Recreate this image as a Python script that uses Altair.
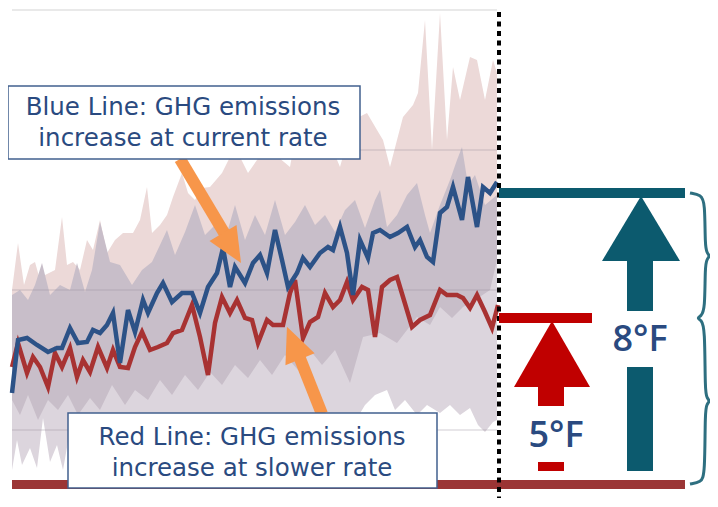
import altair as alt
import pandas as pd

# ---------------- data (plot units) ----------------
blue_x = [12, 18, 27, 37, 48, 57, 62, 70, 78, 87, 93, 100, 107, 113, 120, 128, 135, 143, 148, 157,
          163, 172, 182, 192, 200, 208, 217, 223, 230, 235, 245, 253, 260, 267, 275, 282, 288, 297,
          303, 310, 320, 328, 333, 340, 347, 353, 360, 368, 373, 380, 390, 398, 407, 415, 420, 427,
          433, 440, 447, 453, 462, 468, 477, 483, 490, 497]
blue_y = [393, 340, 338, 345, 352, 348, 348, 328, 343, 342, 330, 333, 325, 313, 363, 310, 332, 300,
          313, 293, 283, 302, 293, 293, 313, 287, 273, 248, 287, 267, 283, 263, 255, 273, 230, 260,
          287, 273, 258, 267, 253, 247, 250, 227, 253, 295, 240, 258, 233, 230, 237, 233, 227, 247,
          240, 257, 262, 213, 207, 187, 220, 177, 227, 187, 193, 182]

red_x = [12, 18, 27, 33, 40, 48, 55, 62, 70, 77, 83, 90, 98, 107, 113, 120, 128, 135, 142, 150,
         158, 167, 173, 182, 192, 200, 208, 215, 222, 230, 237, 245, 252, 258, 267, 273, 283, 290,
         295, 303, 310, 318, 325, 333, 340, 347, 353, 362, 368, 375, 382, 390, 397, 403, 412, 420,
         430, 440, 447, 457, 463, 470, 477, 485, 492, 498]
red_y = [367, 343, 373, 357, 367, 387, 353, 367, 348, 377, 360, 372, 347, 368, 350, 367, 368, 347,
         332, 350, 347, 343, 333, 330, 305, 337, 375, 323, 297, 313, 300, 318, 320, 343, 320, 325,
         325, 293, 280, 338, 322, 317, 293, 307, 300, 282, 300, 287, 290, 337, 287, 280, 277, 297,
         327, 320, 315, 290, 295, 295, 298, 308, 295, 312, 328, 305]

# upper envelope of the spread (pink)
top_x = [12, 18, 24, 30, 35, 40, 45, 55, 62, 67, 73, 80, 87, 93, 100, 107, 115, 123, 133, 140,
         147, 152, 160, 167, 173, 182, 188, 195, 202, 210, 222, 230, 240, 248, 257, 267, 278, 290,
         297, 307, 320, 330, 340, 353, 367, 377, 383, 390, 397, 403, 413, 418, 425, 432, 440, 447,
         453, 460, 470, 477, 485, 493, 497]
top_y = [290, 243, 285, 265, 262, 280, 275, 270, 217, 265, 262, 270, 240, 250, 220, 253, 240, 233,
         233, 220, 187, 233, 225, 215, 197, 173, 193, 200, 188, 187, 173, 157, 157, 173, 160, 147,
         157, 167, 127, 157, 133, 143, 167, 120, 113, 130, 140, 167, 140, 117, 105, 93, 20, 150,
         13, 140, 67, 100, 57, 60, 100, 60, 73]

# overlap band (mauve) upper edge
mid_hi_x = [12, 20, 28, 35, 42, 50, 60, 70, 77, 85, 92, 100, 110, 120, 132, 142, 152, 160, 167,
            175, 185, 195, 205, 215, 225, 235, 245, 255, 265, 275, 285, 295, 305, 315, 325, 335,
            345, 355, 365, 375, 380, 387, 397, 407, 417, 425, 430, 440, 450, 457, 462, 468, 475,
            485, 497]
mid_hi_y = [295, 290, 300, 285, 263, 295, 285, 290, 263, 292, 270, 222, 262, 265, 285, 270, 262,
            245, 230, 255, 232, 205, 235, 225, 240, 205, 240, 215, 235, 200, 235, 222, 205, 225,
            215, 232, 210, 200, 228, 200, 190, 227, 215, 195, 183, 215, 233, 205, 180, 160, 147,
            185, 175, 205, 195]

# overlap band (mauve) lower edge
mid_lo_x = [12, 20, 28, 38, 48, 58, 68, 78, 90, 100, 112, 125, 135, 148, 160, 172, 185, 198, 210,
            222, 235, 248, 260, 272, 285, 298, 310, 322, 335, 350, 363, 380, 397, 417, 430, 440,
            452, 463, 475, 490, 497]
mid_lo_y = [400, 415, 395, 420, 400, 410, 395, 415, 398, 410, 385, 405, 390, 400, 380, 395, 375,
            390, 372, 385, 365, 378, 360, 375, 355, 370, 350, 365, 350, 383, 337, 333, 343, 317,
            325, 307, 318, 307, 300, 290, 260]

# lower envelope of the spread (lavender)
low_x = [12, 17, 22, 30, 37, 43, 50, 57, 63, 70, 80, 100, 150, 250, 350, 365, 375, 387, 395, 405,
         417, 427, 440, 450, 460, 470, 478, 485, 493, 497]
low_y = [470, 440, 465, 448, 468, 418, 462, 445, 470, 430, 440, 445, 440, 440, 430, 405, 395, 390,
         410, 400, 415, 405, 413, 405, 415, 408, 425, 432, 422, 420]

grid_y = [10, 150, 290, 430]

# right-hand warming bars (°F labels)
labels = ["8°F", "5°F"]

BLUE = "#2c5287"
RED_LINE = "#a83232"
TEAL = "#0c5a6e"
RED = "#c00000"
BASE = "#9b3535"
ORANGE = "#f7964a"
TXT = "#2a4a80"
FONT = "DejaVu Sans"
LFONT = "Open Sans"

X = alt.Scale(domain=[8, 710], nice=False, zero=False)
Y = alt.Scale(domain=[8, 498], nice=False, zero=False, reverse=True)


def xq(f):
    return alt.X(f, type="quantitative", scale=X, axis=None)


def yq(f):
    return alt.Y(f, type="quantitative", scale=Y, axis=None)


def area_to_bottom(xs, ys, color):
    df = pd.DataFrame({"x": xs, "y": ys, "b": [480] * len(xs)})
    return alt.Chart(df).mark_area(color=color, opacity=1, interpolate="linear").encode(
        x=xq("x"), y=yq("y"), y2="b")


def rect(x0, x1, y0, y1, color, stroke=None, sw=0):
    df = pd.DataFrame({"x": [x0], "x2": [x1], "y": [y0], "y2": [y1]})
    kw = dict(color=color)
    if stroke:
        kw = dict(fill=color, stroke=stroke, strokeWidth=sw)
    return alt.Chart(df).mark_rect(**kw).encode(x=xq("x"), x2="x2", y=yq("y"), y2="y2")


def tri_up(ax, ay, by, half, color):
    df = pd.DataFrame({"x": [ax - half, ax, ax + half], "y": [by, ay, by], "b": [by, by, by]})
    return alt.Chart(df).mark_area(color=color, interpolate="linear").encode(
        x=xq("x"), y=yq("y"), y2="b")


layers = []

# top grid line (on white)
gdf = pd.DataFrame({"x": [12], "x2": [497], "y": [grid_y[0]]})
layers.append(alt.Chart(gdf).mark_rule(color="#e2e2e2", strokeWidth=1.5).encode(
    x=xq("x"), x2="x2", y=yq("y")))

# spread bands
layers.append(area_to_bottom(top_x, top_y, "#ecd9d8"))
layers.append(area_to_bottom(mid_hi_x, mid_hi_y, "#c8bec9"))
layers.append(area_to_bottom(mid_lo_x, mid_lo_y, "#dcd5dd"))
layers.append(area_to_bottom(low_x, low_y, "#ffffff"))

# grid lines over the bands
gdf2 = pd.DataFrame({"x": [12] * 3, "x2": [497] * 3, "y": grid_y[1:]})
layers.append(alt.Chart(gdf2).mark_rule(color="#9a909c", strokeWidth=1, opacity=0.45).encode(
    x=xq("x"), x2="x2", y=yq("y")))

# series lines
layers.append(alt.Chart(pd.DataFrame({"x": red_x, "y": red_y})).mark_line(
    color=RED_LINE, strokeWidth=4.5, strokeJoin="miter").encode(x=xq("x"), y=yq("y")))
layers.append(alt.Chart(pd.DataFrame({"x": blue_x, "y": blue_y})).mark_line(
    color=BLUE, strokeWidth=4.5, strokeJoin="miter").encode(x=xq("x"), y=yq("y")))

# baseline
layers.append(rect(12, 685, 480, 489, BASE))

# dotted divider
ddf = pd.DataFrame({"x": [499], "y": [12], "y2": [498]})
layers.append(alt.Chart(ddf).mark_rule(color="#000000", strokeWidth=4, strokeDash=[5, 4.5]).encode(
    x=xq("x"), y=yq("y"), y2="y2"))

# teal 8°F arrow
layers.append(rect(499, 685, 188, 198, TEAL))
layers.append(tri_up(641, 196, 261, 39, TEAL))
layers.append(rect(627, 653, 260, 311, TEAL))
layers.append(rect(627, 653, 367, 471, TEAL))

# red 5°F arrow
layers.append(rect(499, 592, 313, 323, RED))
layers.append(tri_up(552, 321, 387, 38, RED))
layers.append(rect(538, 564, 386, 406, RED))
layers.append(rect(538, 564, 462, 471, RED))

# degree labels
ldf = pd.DataFrame({"x": [640, 556], "y": [340, 436], "t": labels})
layers.append(alt.Chart(ldf).mark_text(font=LFONT, fontSize=36, fontWeight=600, color=TXT,
                                       baseline="middle", align="center").encode(
    x=xq("x"), y=yq("y"), text="t"))

# braces
bx = [690, 701, 705, 705, 707, 710, 707, 705, 705, 701, 697, 701, 705, 705, 707, 710, 707, 705, 705, 701, 690]
by = [193, 195, 202, 246, 253, 256, 259, 266, 310, 316, 318, 320, 327, 392, 398, 401, 404, 410, 475, 482, 484]
bdf = pd.DataFrame({"x": bx, "y": by, "o": list(range(len(bx)))})
layers.append(alt.Chart(bdf).mark_line(color="#2e6f80", strokeWidth=3, interpolate="basis").encode(
    x=xq("x"), y=yq("y"), order="o"))

# orange arrows
adf = pd.DataFrame({"x": [180, 322], "y": [159, 414], "x2": [226, 299], "y2": [236, 356]})
layers.append(alt.Chart(adf).mark_rule(color=ORANGE, strokeWidth=12).encode(
    x=xq("x"), y=yq("y"), x2="x2", y2="y2"))
hdf = pd.DataFrame({"x": [232, 293.5], "y": [248, 343], "a": [149, 338]})
layers.append(alt.Chart(hdf).mark_point(shape="M0,-1L0.9,1L-0.9,1Z", filled=True, size=1225,
                                        color=ORANGE, opacity=1).encode(
    x=xq("x"), y=yq("y"), angle=alt.Angle("a:Q", scale=None)))

# text boxes
layers.append(rect(8, 360, 86, 159, "#ffffff", stroke="#41608f", sw=1.5))
layers.append(rect(68, 437, 413, 488, "#ffffff", stroke="#41608f", sw=1.5))
tdf = pd.DataFrame({
    "x": [183, 183, 252, 252],
    "y": [108, 139, 438, 469],
    "t": ["Blue Line: GHG emissions", "increase at current rate",
          "Red Line: GHG emissions", "increase at slower rate"],
})
layers.append(alt.Chart(tdf).mark_text(font=FONT, fontSize=24.5, color=TXT, baseline="middle",
                                       align="center").encode(x=xq("x"), y=yq("y"), text="t"))

chart = alt.layer(*layers).properties(
    width=702, height=490, padding=0, autosize=alt.AutoSizeParams(type="none")
).configure_view(strokeOpacity=0, fillOpacity=0)

chart.save("out.html", embed_options={"renderer": "svg", "actions": False})
